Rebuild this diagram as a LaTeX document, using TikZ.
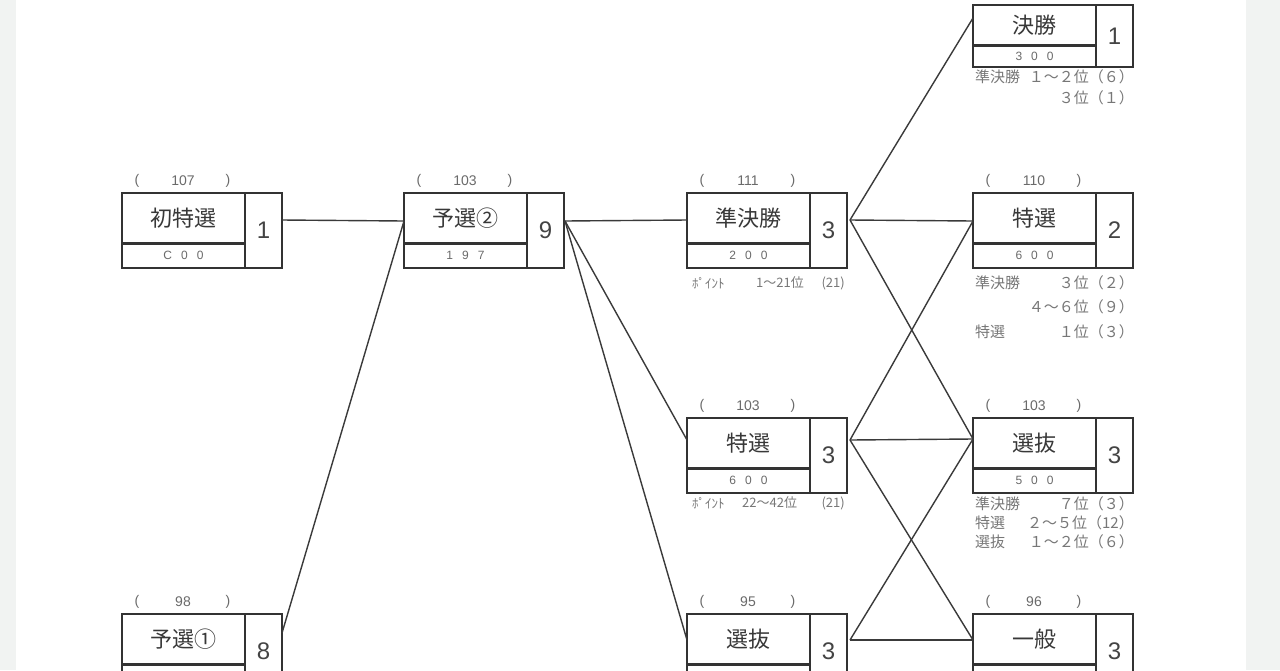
\documentclass[tikz,border=0pt]{standalone}
\usepackage{fontspec}
\setmainfont{Liberation Sans}
\newfontfamily\jp{Noto Sans CJK JP}
\usetikzlibrary{calc}
\definecolor{pagegray}{HTML}{F1F3F2}
\definecolor{boxc}{HTML}{333333}
\definecolor{titlec}{HTML}{383838}
\definecolor{numc}{HTML}{444444}
\definecolor{lblc}{HTML}{6A6A6A}
\definecolor{notec}{HTML}{777777}
\definecolor{linec}{HTML}{3A3A3A}
\newcommand\gapk{\kern 9pt}
\newcommand\racebox[8]{%
  \node[part, minimum width=123, minimum height=#4, font=\jp\fontsize{22}{24}\selectfont, text=titlec] (#1-t) at (#2,#3) {#6};
  \node[part, minimum width=123, minimum height=#5, font=\fontsize{12}{14}\selectfont, text=lblc] (#1-b) at (#1-t.south west) {#8};
  \node[part, minimum width=37, minimum height={#4+#5}, font=\fontsize{24}{26}\selectfont, text=numc] (#1) at (#1-t.north east) {#7};
  \draw[divider] (#1-t.south west) -- (#1-t.south east);
}
\newcommand\racelabel[2]{%
  \node[lbl] (#1-l1) at ($(#1-t.north west)+(15,-12)$) {(};
  \node[lbl] (#1-l2) at ($(#1-t.north west)+(61,-12)$) {#2};
  \node[lbl] (#1-l3) at ($(#1-t.north west)+(106,-12)$) {)};
}
\begin{document}
\begin{tikzpicture}[x=1pt,y=-1pt,
  part/.style={draw=boxc, line width=1.7pt, anchor=north west, inner sep=0pt, outer sep=0pt},
  divider/.style={draw=boxc, line width=3pt},
  lbl/.style={font=\fontsize{14}{16}\selectfont, text=lblc, inner sep=0pt},
  note/.style={font=\jp\fontsize{15}{17}\selectfont, text=notec, inner sep=0pt},
  pnote/.style={font=\jp\fontsize{13}{15}\selectfont, text=notec, inner sep=0pt},
  link/.style={draw=linec, line width=1.4pt}]
\fill[pagegray] (0,0) rectangle (1280,670);
\fill[white] (16,0) rectangle (1246,670);
\useasboundingbox (0,0) rectangle (1280,670);

% boxes
\racebox{shotoku}{122}{193}{50}{25}{初特選}{1}{C\gapk 0\gapk 0}
\racebox{yosen2}{404}{193}{50}{25}{予選②}{9}{1\gapk 9\gapk 7}
\racebox{junk}{687}{193}{50}{25}{準決勝}{3}{2\gapk 0\gapk 0}
\racebox{tokusenR}{973}{193}{50}{25}{特選}{2}{6\gapk 0\gapk 0}
\racebox{tokusenM}{687}{418}{50}{25}{特選}{3}{6\gapk 0\gapk 0}
\racebox{senbatsuR}{973}{418}{50}{25}{選抜}{3}{5\gapk 0\gapk 0}
\racebox{yosen1}{122}{614}{50}{25}{予選①}{8}{}
\racebox{senbatsuM}{687}{614}{50}{25}{選抜}{3}{}
\racebox{ippan}{973}{614}{50}{25}{一般}{3}{}
\racebox{kessho}{973}{5}{40}{22}{決勝}{1}{3\gapk 0\gapk 0}

\racelabel{shotoku}{107}
\racelabel{yosen2}{103}
\racelabel{junk}{111}
\racelabel{tokusenR}{110}
\racelabel{tokusenM}{103}
\racelabel{senbatsuR}{103}
\racelabel{yosen1}{98}
\racelabel{senbatsuM}{95}
\racelabel{ippan}{96}

% connection points
\coordinate (shotoku-o) at (282,220);
\coordinate (yosen1-o) at (282,633);
\coordinate (yosen2-i) at (404,221);
\coordinate (yosen2-o) at (565,221);
\coordinate (junk-i) at (687,220);
\coordinate (junk-o) at (850,220);
\coordinate (tokusenM-i) at (687,440);
\coordinate (tokusenM-o) at (850,440);
\coordinate (senbatsuM-i) at (687,640);
\coordinate (senbatsuM-o) at (850,640);
\coordinate (kessho-i) at (973,18);
\coordinate (tokusenR-i) at (973,221);
\coordinate (senbatsuR-i) at (973,439);
\coordinate (ippan-i) at (973,640);

% connectors
\draw[link] (shotoku-o) -- (yosen2-i);
\draw[link] (yosen1-o) -- (yosen2-i);
\draw[link] (yosen2-o) -- (junk-i);
\draw[link] (yosen2-o) -- (tokusenM-i);
\draw[link] (yosen2-o) -- (senbatsuM-i);
\draw[link] (junk-o) -- (kessho-i);
\draw[link] (junk-o) -- (tokusenR-i);
\draw[link] (junk-o) -- (senbatsuR-i);
\draw[link] (tokusenM-o) -- (tokusenR-i);
\draw[link] (tokusenM-o) -- (senbatsuR-i);
\draw[link] (tokusenM-o) -- (ippan-i);
\draw[link] (senbatsuM-o) -- (senbatsuR-i);
\draw[link] (senbatsuM-o) -- (ippan-i);

% notes under middle column
\node[pnote, anchor=west] (n1a) at (692,283) {ﾎﾟｲﾝﾄ};
\node[pnote, anchor=west] (n1b) at (756,283) {1～21位};
\node[pnote, anchor=east] (n1c) at (845,283) {(21)};
\node[pnote, anchor=west] (n2a) at (692,503) {ﾎﾟｲﾝﾄ};
\node[pnote, anchor=west] (n2b) at (742,503) {22～42位};
\node[pnote, anchor=east] (n2c) at (845,503) {(21)};

% notes under right column
\node[note, anchor=west] (k1a) at (975,77) {準決勝};
\node[note, anchor=east] (k1b) at (1134,77) {１～２位（６）};
\node[note, anchor=east] (k2b) at (1134,98) {３位（１）};

\node[note, anchor=west] (t1a) at (975,283) {準決勝};
\node[note, anchor=east] (t1b) at (1134,283) {３位（２）};
\node[note, anchor=east] (t2b) at (1134,307) {４～６位（９）};
\node[note, anchor=west] (t3a) at (975,332) {特選};
\node[note, anchor=east] (t3b) at (1134,332) {１位（３）};

\node[note, anchor=west] (s1a) at (975,504) {準決勝};
\node[note, anchor=east] (s1b) at (1134,504) {７位（３）};
\node[note, anchor=west] (s2a) at (975,523) {特選};
\node[note, anchor=east] (s2b) at (1134,523) {２～５位（12）};
\node[note, anchor=west] (s3a) at (975,542) {選抜};
\node[note, anchor=east] (s3b) at (1134,542) {１～２位（６）};
\end{tikzpicture}
\end{document}
